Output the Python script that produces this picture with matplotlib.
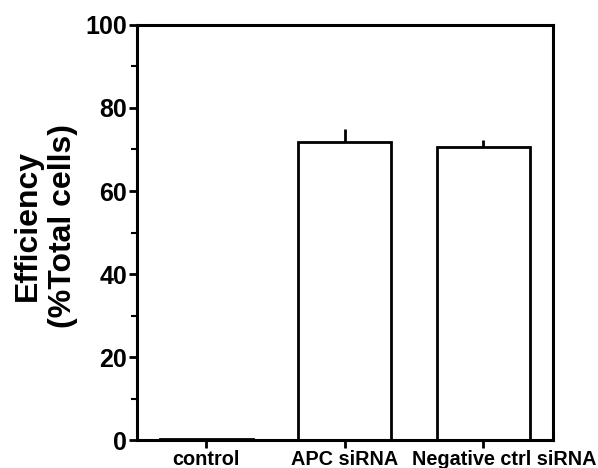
import matplotlib
matplotlib.use("Agg")
import matplotlib.pyplot as plt
from matplotlib.ticker import MultipleLocator

categories = ["control", "APC siRNA", "Negative ctrl siRNA"]
values = [0.25, 71.7, 70.7]
errors = [0.0, 3.2, 1.5]
yticks = [0, 20, 40, 60, 80, 100]

plt.rcParams['font.family'] = ['Liberation Sans', 'DejaVu Sans']
plt.rcParams['font.weight'] = 'bold'

fig = plt.figure(figsize=(5.98, 4.68), dpi=100)
ax = fig.add_axes([0.229, 0.0598, 0.695, 0.8868])

x = list(range(len(categories)))
ax.bar(x, values, width=0.67, color='white', edgecolor='black', linewidth=2.0, zorder=2)
ax.errorbar(x, values, yerr=[[0]*len(errors), errors], fmt='none', ecolor='black',
            elinewidth=2.0, capsize=0, zorder=1)

ax.set_xlim(-0.5, 2.5)
ax.set_ylim(0, 100)
ax.set_yticks(yticks)
ax.set_yticklabels([str(v) for v in yticks], fontsize=18, fontweight='bold')
ax.yaxis.set_minor_locator(MultipleLocator(10))
ax.set_xticks(x)
# the last category label is drawn shifted right (as in the reference)
ax.set_xticklabels(categories[:-1] + [""], fontsize=14.3, fontweight='bold')
ax.annotate(categories[-1], xy=(x[-1], 0), xycoords=('data', 'axes fraction'),
            xytext=(15.1, -7), textcoords='offset points', ha='center', va='top',
            fontsize=14.3, fontweight='bold', annotation_clip=False)

for s in ax.spines.values():
    s.set_linewidth(2.2)
ax.tick_params(axis='y', which='major', direction='out', length=6, width=2, pad=1)
ax.tick_params(axis='y', which='minor', direction='out', length=4, width=1.5)
ax.tick_params(axis='x', which='major', direction='out', length=6, width=2, pad=1)

ax.set_ylabel("Efficiency\n(%Total cells)", fontsize=23, fontweight='bold', linespacing=1.2)
ax.yaxis.set_label_coords(-0.142, 0.516)

fig.savefig("out.png", dpi=100)
